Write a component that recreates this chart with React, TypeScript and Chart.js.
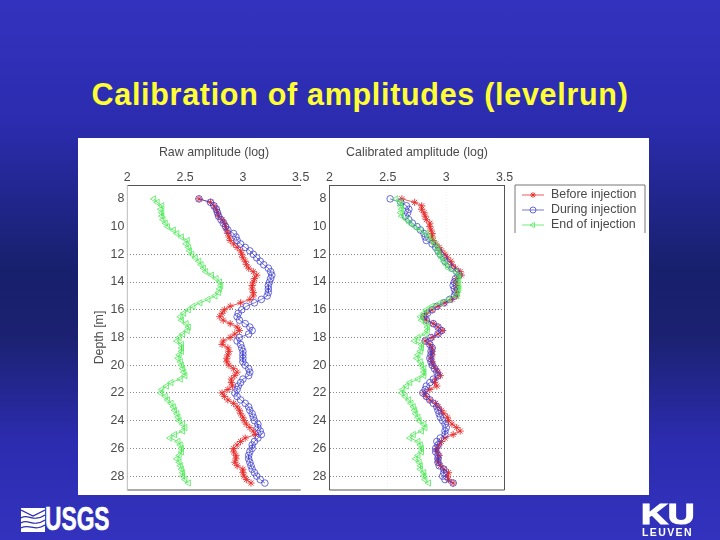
import { useEffect, useRef } from 'react';
import { Chart, registerables } from 'chart.js';
import { drawPoint } from 'chart.js/helpers';

Chart.register(...registerables);

const depths = [
  8, 8.25, 8.5, 8.75, 9, 9.25, 9.5, 9.75, 10, 10.25,
  10.5, 10.75, 11, 11.25, 11.5, 11.75, 12, 12.25, 12.5, 12.75,
  13, 13.25, 13.5, 13.75, 14, 14.25, 14.5, 14.75, 15, 15.25,
  15.5, 15.75, 16, 16.25, 16.5, 16.75, 17, 17.25, 17.5, 17.75,
  18, 18.25, 18.5, 18.75, 19, 19.25, 19.5, 19.75, 20, 20.25,
  20.5, 20.75, 21, 21.25, 21.5, 21.75, 22, 22.25, 22.5, 22.75,
  23, 23.25, 23.5, 23.75, 24, 24.25, 24.5, 24.75, 25, 25.25,
  25.5, 25.75, 26, 26.25, 26.5, 26.75, 27, 27.25, 27.5, 27.75,
  28, 28.25, 28.5,
];

const rawBefore = [
  2.62, 2.72, 2.75, 2.77, 2.78, 2.79, 2.82, 2.84, 2.85, 2.86,
  2.87, 2.88, 2.89, 2.92, 2.95, 2.98, 2.99, 3.0, 3.02, 3.03,
  3.05, 3.09, 3.12, 3.1, 3.09, 3.08, 3.08, 3.09, 3.09, 3.06,
  2.98, 2.89, 2.84, 2.82, 2.8, 2.83, 2.89, 2.95, 2.97, 2.93,
  2.89, 2.83, 2.82, 2.87, 2.88, 2.87, 2.86, 2.86, 2.88, 2.92,
  2.95, 2.93, 2.9, 2.9, 2.91, 2.87, 2.82, 2.84, 2.87, 2.92,
  2.95, 2.97, 2.98, 3.0, 3.01, 3.03, 3.06, 3.09, 3.11, 3.02,
  2.98, 2.95, 2.92, 2.92, 2.94, 2.94, 2.93, 2.95, 3.0, 3.0,
  3.01, 3.03, 3.07,
];
const rawDuring = [
  2.62, 2.72, 2.75, 2.77, 2.78, 2.79, 2.81, 2.83, 2.85, 2.87,
  2.92, 2.94, 2.95, 2.98, 3.02, 3.06, 3.09, 3.12, 3.15, 3.18,
  3.22, 3.24, 3.25, 3.24, 3.23, 3.22, 3.22, 3.22, 3.21, 3.16,
  3.1, 3.03, 2.99, 2.96, 2.95, 2.97, 3.02, 3.06, 3.08, 3.05,
  2.97, 2.95, 2.98, 2.99, 3.0, 3.0, 3.0, 3.0, 3.02, 3.05,
  3.06, 3.05, 3.0, 2.98, 2.96, 2.95, 2.93, 2.95, 2.98, 3.02,
  3.05, 3.06, 3.08, 3.09, 3.1, 3.13, 3.13, 3.15, 3.16, 3.13,
  3.1, 3.08, 3.08, 3.06, 3.05, 3.05, 3.06, 3.07, 3.08, 3.1,
  3.12, 3.15, 3.19,
];
const rawEnd = [
  2.23, 2.26, 2.3, 2.29, 2.3, 2.3, 2.31, 2.33, 2.35, 2.4,
  2.43, 2.47, 2.52, 2.51, 2.53, 2.54, 2.56, 2.59, 2.62, 2.64,
  2.66, 2.68, 2.73, 2.77, 2.8, 2.81, 2.8, 2.79, 2.76, 2.7,
  2.63, 2.57, 2.53, 2.49, 2.46, 2.47, 2.51, 2.53, 2.52, 2.48,
  2.45, 2.43, 2.47, 2.47, 2.47, 2.45, 2.44, 2.46, 2.47, 2.48,
  2.49, 2.5, 2.46, 2.38, 2.34, 2.3, 2.29, 2.33, 2.35, 2.38,
  2.4, 2.41, 2.43, 2.44, 2.45, 2.48, 2.5, 2.48, 2.41, 2.37,
  2.44, 2.46, 2.47, 2.47, 2.45, 2.43, 2.45, 2.46, 2.47, 2.48,
  2.48, 2.5, 2.53,
];

const calBefore = [
  2.62, 2.73, 2.79, 2.79, 2.81, 2.82, 2.83, 2.86, 2.86, 2.87,
  2.88, 2.88, 2.89, 2.91, 2.94, 2.96, 2.99, 3.01, 3.04, 3.05,
  3.08, 3.12, 3.13, 3.09, 3.08, 3.09, 3.09, 3.09, 3.09, 3.05,
  2.99, 2.93, 2.88, 2.83, 2.81, 2.83, 2.89, 2.93, 2.97, 2.93,
  2.88, 2.82, 2.86, 2.88, 2.88, 2.88, 2.87, 2.88, 2.89, 2.91,
  2.93, 2.95, 2.91, 2.9, 2.92, 2.86, 2.81, 2.83, 2.86, 2.91,
  2.93, 2.96, 2.98, 3.01, 3.02, 3.05, 3.09, 3.12, 3.06, 2.99,
  2.96, 2.94, 2.92, 2.92, 2.94, 2.93, 2.93, 2.95, 2.98, 3.02,
  3.01, 3.02, 3.06,
];
const calDuring = [
  2.52, 2.61, 2.66, 2.68, 2.67, 2.65, 2.68, 2.71, 2.75, 2.78,
  2.81, 2.82, 2.83, 2.88, 2.91, 2.93, 2.95, 2.98, 2.99, 3.02,
  3.05, 3.09, 3.11, 3.08, 3.07, 3.06, 3.07, 3.08, 3.07, 3.03,
  2.98, 2.92, 2.88, 2.84, 2.81, 2.83, 2.89, 2.93, 2.96, 2.93,
  2.87, 2.82, 2.86, 2.88, 2.87, 2.87, 2.86, 2.87, 2.88, 2.9,
  2.92, 2.93, 2.89, 2.86, 2.83, 2.82, 2.8, 2.83, 2.86, 2.89,
  2.92, 2.93, 2.94, 2.95, 2.97, 2.99, 3.0, 2.99, 2.99, 2.95,
  2.92, 2.93, 2.91, 2.91, 2.93, 2.93, 2.93, 2.94, 2.98, 2.98,
  2.97, 2.99, 3.06,
];
const calEnd = [
  2.57, 2.61, 2.61, 2.62, 2.61, 2.62, 2.66, 2.69, 2.73, 2.78,
  2.83, 2.85, 2.88, 2.9, 2.92, 2.93, 2.94, 2.96, 2.98, 3.0,
  3.02, 3.08, 3.11, 3.11, 3.1, 3.11, 3.11, 3.1, 3.09, 3.02,
  2.95, 2.88, 2.83, 2.81, 2.78, 2.79, 2.83, 2.84, 2.84, 2.82,
  2.76, 2.73, 2.79, 2.79, 2.78, 2.76, 2.75, 2.78, 2.79, 2.81,
  2.81, 2.81, 2.76, 2.69, 2.66, 2.63, 2.62, 2.65, 2.68, 2.7,
  2.72, 2.73, 2.74, 2.76, 2.77, 2.81, 2.82, 2.79, 2.72, 2.69,
  2.76, 2.78, 2.79, 2.79, 2.76, 2.74, 2.77, 2.78, 2.78, 2.81,
  2.81, 2.82, 2.85,
];

const seriesLabels = ['Before injection', 'During injection', 'End of injection'];
const depthTicks = [8, 10, 12, 14, 16, 18, 20, 22, 24, 26, 28];
const amplitudeTicks = [2, 2.5, 3, 3.5];

const FONT = '"Liberation Sans", Arial, sans-serif';
const TEXT = '#4a4a4a';
const LABEL_SIZE = 12.4;

function makeDatasets(before: number[], during: number[], end: number[]) {
  const points = (values: number[]) => values.map((x, i) => ({ x, y: depths[i] }));
  return [
    {
      label: seriesLabels[0],
      data: points(before),
      borderColor: 'rgba(232,50,50,0.8)',
      pointBorderColor: 'rgba(232,40,40,0.85)',
      pointStyle: 'star',
      pointRadius: 3.6,
      pointRotation: 0,
      order: 3,
    },
    {
      label: seriesLabels[1],
      data: points(during),
      borderColor: 'rgba(60,60,200,0.7)',
      pointBorderColor: 'rgba(60,60,205,0.75)',
      pointStyle: 'circle',
      pointRadius: 3.3,
      pointRotation: 0,
      order: 2,
    },
    {
      label: seriesLabels[2],
      data: points(end),
      borderColor: 'rgba(70,225,80,0.75)',
      pointBorderColor: 'rgba(80,235,90,0.8)',
      pointStyle: 'triangle',
      pointRadius: 3.6,
      pointRotation: -90,
      order: 1,
    },
  ].map((d) => ({ ...d, borderWidth: 1, pointBorderWidth: 1, pointBackgroundColor: 'transparent', showLine: true }));
}

// bottom line and the sides of each plot box
const frameLines = {
  id: 'frameLines',
  afterDatasetsDraw(chart: any, _args: any, opts: any) {
    const { left, right, bottom, top } = chart.chartArea;
    const ctx = chart.ctx;
    ctx.save();
    ctx.lineWidth = 1;
    ctx.strokeStyle = '#555';
    ctx.beginPath();
    ctx.moveTo(left, bottom);
    ctx.lineTo(right, bottom);
    ctx.stroke();
    ctx.strokeStyle = opts.sideColor;
    ctx.beginPath();
    ctx.moveTo(left, top);
    ctx.lineTo(left, bottom);
    if (opts.closed) {
      ctx.moveTo(right, top);
      ctx.lineTo(right, bottom);
    }
    ctx.stroke();
    ctx.restore();
  },
};

// matlab style legend box, cut off at the bottom like in the slide
const lineLegend = {
  id: 'lineLegend',
  afterDraw(chart: any, _args: any, opts: any) {
    if (!opts.show) return;
    const ctx = chart.ctx;
    const x = 207;
    const y = 47;
    const w = 130;
    const h = 48;
    ctx.save();
    ctx.fillStyle = '#fff';
    ctx.fillRect(x, y, w, h);
    ctx.lineWidth = 1;
    ctx.strokeStyle = '#777';
    ctx.beginPath();
    ctx.moveTo(x, y + h);
    ctx.lineTo(x, y);
    ctx.lineTo(x + w, y);
    ctx.lineTo(x + w, y + h);
    ctx.stroke();
    ctx.font = `${LABEL_SIZE}px ${FONT}`;
    ctx.textBaseline = 'middle';
    chart.data.datasets.forEach((d: any, i: number) => {
      const rowY = y + 10 + i * 15;
      ctx.strokeStyle = d.borderColor;
      ctx.beginPath();
      ctx.moveTo(x + 7, rowY);
      ctx.lineTo(x + 29, rowY);
      ctx.stroke();
      ctx.strokeStyle = d.pointBorderColor;
      ctx.fillStyle = 'transparent';
      drawPoint(ctx, { pointStyle: d.pointStyle, radius: 3, rotation: d.pointRotation, borderWidth: 0.9 }, x + 18, rowY);
      ctx.fillStyle = TEXT;
      ctx.fillText(d.label, x + 36, rowY);
    });
    ctx.restore();
  },
};

function makePanel(canvas: HTMLCanvasElement, title: string, datasets: any[], raw: boolean) {
  return new Chart(canvas, {
    type: 'scatter',
    data: { datasets },
    plugins: [frameLines, lineLegend],
    options: {
      animation: false,
      responsive: false,
      maintainAspectRatio: false,
      layout: { padding: { right: raw ? 9.3 : 144.5, bottom: 5, top: 0, left: 0 } },
      plugins: {
        legend: { display: false },
        tooltip: { enabled: false },
        frameLines: { sideColor: raw ? '#bbb' : '#555', closed: !raw },
        lineLegend: { show: !raw },
      } as any,
      scales: {
        x: {
          type: 'linear',
          position: 'top',
          min: 2,
          max: 3.5,
          afterBuildTicks: (scale: any) => {
            scale.ticks = amplitudeTicks.map((value) => ({ value }));
          },
          afterFit: (scale: any) => {
            scale.height = 47;
          },
          grid: { display: !raw, color: '#f1f1f1', drawTicks: false },
          border: { color: '#555', dash: raw ? undefined : [1, 2] },
          title: { display: true, text: title, color: TEXT, font: { family: FONT, size: LABEL_SIZE }, padding: { top: 7, bottom: 0 } },
          ticks: {
            color: TEXT,
            font: { family: FONT, size: LABEL_SIZE },
            padding: 0,
            maxRotation: 0,
            callback: (v: any) => String(v),
          },
        },
        y: {
          type: 'linear',
          reverse: true,
          min: 7,
          max: 29,
          afterBuildTicks: (scale: any) => {
            scale.ticks = depthTicks.map((value) => ({ value }));
          },
          afterFit: (scale: any) => {
            scale.width = raw ? 49.3 : 21.5;
            // tick labels stay well inside the plot, no overhang needed
            scale.paddingTop = 0;
            scale.paddingBottom = 0;
          },
          grid: {
            drawTicks: false,
            lineWidth: 1,
            color: (ctx: any) => (ctx.tick && ctx.tick.value >= 12 ? '#888' : 'transparent'),
          },
          border: { display: false, dash: [1, 2] },
          title: { display: raw, text: 'Depth [m]', color: TEXT, font: { family: FONT, size: LABEL_SIZE }, padding: { top: 14, bottom: 0 } },
          ticks: {
            color: TEXT,
            font: { family: FONT, size: LABEL_SIZE },
            padding: 3,
            autoSkip: false,
            callback: (v: any) => String(v),
          },
        },
      },
    },
  });
}

export default function App() {
  const rawRef = useRef<HTMLCanvasElement>(null);
  const calRef = useRef<HTMLCanvasElement>(null);

  useEffect(() => {
    document.body.style.margin = '0';
    if (!rawRef.current || !calRef.current) return;
    const rawChart = makePanel(rawRef.current, 'Raw amplitude (log)', makeDatasets(rawBefore, rawDuring, rawEnd), true);
    const calChart = makePanel(calRef.current, 'Calibrated amplitude (log)', makeDatasets(calBefore, calDuring, calEnd), false);
    return () => {
      rawChart.destroy();
      calChart.destroy();
    };
  }, []);

  return (
    <div
      style={{
        position: 'relative',
        width: 720,
        height: 540,
        overflow: 'hidden',
        fontFamily: FONT,
        background: 'linear-gradient(180deg, #3232be 0%, #2c2cb0 22%, #17206c 50%, #1b2170 62%, #2c2cb0 82%, #3232be 100%)',
      }}
    >
      <div
        style={{
          position: 'absolute',
          left: 0,
          width: 720,
          top: 76,
          textAlign: 'center',
          color: '#ffff33',
          fontWeight: 'bold',
          fontSize: 30.5,
          letterSpacing: 0.7,
          lineHeight: '36px',
          whiteSpace: 'nowrap',
        }}
      >
        Calibration of amplitudes (levelrun)
      </div>

      <div style={{ position: 'absolute', left: 78, top: 138, width: 571, height: 357, background: '#fff' }} />
      <canvas ref={rawRef} width={232} height={357} style={{ position: 'absolute', left: 78, top: 138, filter: 'blur(0.5px)' }} />
      <canvas ref={calRef} width={341} height={357} style={{ position: 'absolute', left: 308, top: 138, filter: 'blur(0.5px)' }} />

      <svg width={24} height={24} viewBox="0 0 24 24" style={{ position: 'absolute', left: 21, top: 508 }}>
        <rect width={24} height={24} fill="#fff" />
        <path d="M0 2 L12 8 L24 2 M0 10 C7 5 12 15 24 7 M0 15 C7 10 12 20 24 12 M0 20 C8 15 14 24 24 17" stroke="#2c2cb0" strokeWidth={1.2} fill="none" />
      </svg>
      <div
        style={{
          position: 'absolute',
          left: 45,
          top: 500,
          color: '#fff',
          fontWeight: 'bold',
          fontSize: 33,
          lineHeight: '38px',
          transform: 'scaleX(0.69)',
          transformOrigin: 'left top',
          WebkitTextStroke: '0.6px #fff',
        }}
      >
        USGS
      </div>
      <div
        style={{
          position: 'absolute',
          left: 641,
          top: 496,
          color: '#fff',
          fontWeight: 'bold',
          fontSize: 30,
          lineHeight: '36px',
          transform: 'scaleX(1.24)',
          transformOrigin: 'left top',
          WebkitTextStroke: '1.2px #fff',
        }}
      >
        KU
      </div>
      <div
        style={{
          position: 'absolute',
          left: 642,
          top: 526,
          color: '#fff',
          fontWeight: 'bold',
          fontSize: 10.5,
          lineHeight: '12px',
          letterSpacing: 1.4,
        }}
      >
        LEUVEN
      </div>
    </div>
  );
}
